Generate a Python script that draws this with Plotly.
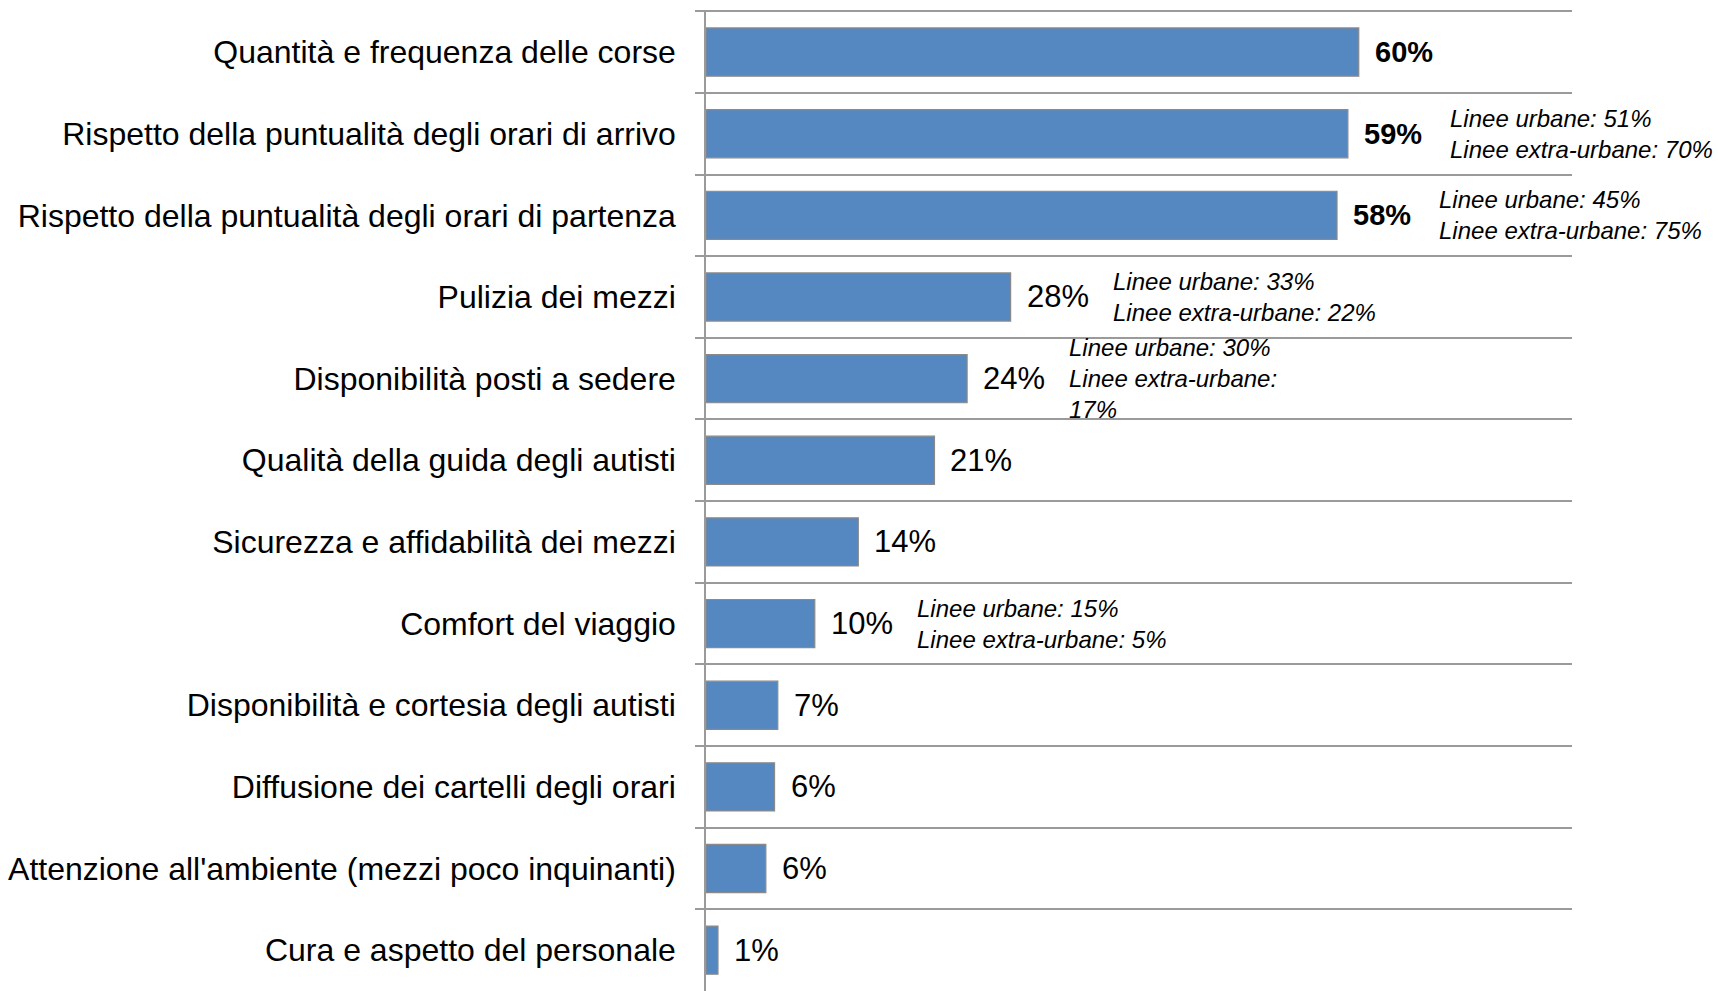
import plotly.graph_objects as go

categories = [
    "Quantità e frequenza delle corse",
    "Rispetto della puntualità degli orari di arrivo",
    "Rispetto della puntualità degli orari di partenza",
    "Pulizia dei mezzi",
    "Disponibilità posti a sedere",
    "Qualità della guida degli autisti",
    "Sicurezza e affidabilità dei mezzi",
    "Comfort del viaggio",
    "Disponibilità e cortesia degli autisti",
    "Diffusione dei cartelli degli orari",
    "Attenzione all'ambiente (mezzi poco inquinanti)",
    "Cura e aspetto del personale",
]
values = [60, 59, 58, 28, 24, 21, 14, 10, 6.6, 6.3, 5.5, 1.1]
value_labels = ["60%", "59%", "58%", "28%", "24%", "21%", "14%", "10%", "7%", "6%", "6%", "1%"]
bold_labels = [True, True, True, False, False, False, False, False, False, False, False, False]
notes = [
    None,
    "Linee urbane: 51%<br>Linee extra-urbane: 70%",
    "Linee urbane: 45%<br>Linee extra-urbane: 75%",
    "Linee urbane: 33%<br>Linee extra-urbane: 22%",
    "Linee urbane: 30%<br>Linee extra-urbane:<br>17%",
    None,
    None,
    "Linee urbane: 15%<br>Linee extra-urbane: 5%",
    None, None, None, None,
]

FONT = "Liberation Sans, Arial, sans-serif"
GRID = "#9a9a9a"

fig = go.Figure()
fig.add_trace(go.Bar(
    y=categories, x=values, orientation="h",
    marker=dict(color="#5587C1", line=dict(color="#8a8a8a", width=1.2)),
    width=0.59, hoverinfo="skip",
))

for cat, v, lab, b in zip(categories, values, value_labels, bold_labels):
    fig.add_annotation(
        x=v, y=cat, text=f"<b>{lab}</b>" if b else lab,
        xanchor="left", yanchor="middle", xshift=14, showarrow=False,
        font=dict(family=FONT, size=29 if b else 31, color="black"),
    )

for cat, v, note in zip(categories, values, notes):
    if note:
        fig.add_annotation(
            x=v, y=cat, text=f"<i>{note}</i>", align="left",
            xanchor="left", yanchor="middle", xshift=100, showarrow=False,
            font=dict(family=FONT, size=24, color="black"),
        )

fig.update_layout(
    width=1718, height=991,
    margin=dict(l=706, r=146, t=10, b=0),
    plot_bgcolor="white", paper_bgcolor="white",
    showlegend=False,
    bargap=0.41,
)
fig.update_xaxes(
    range=[0, 79.6], showgrid=False, showticklabels=False, zeroline=False,
    showline=False, ticks="",
)
fig.update_yaxes(
    type="category", range=[11.5, -0.515], tickson="boundaries",
    showgrid=True, gridcolor=GRID, gridwidth=1.5,
    ticks="outside", ticklen=9, tickcolor=GRID, tickwidth=1.5,
    showline=True, linecolor=GRID, linewidth=1.5,
    tickfont=dict(family=FONT, size=32, color="black"),
    ticklabelstandoff=22,
)

fig.write_html("out.html")
